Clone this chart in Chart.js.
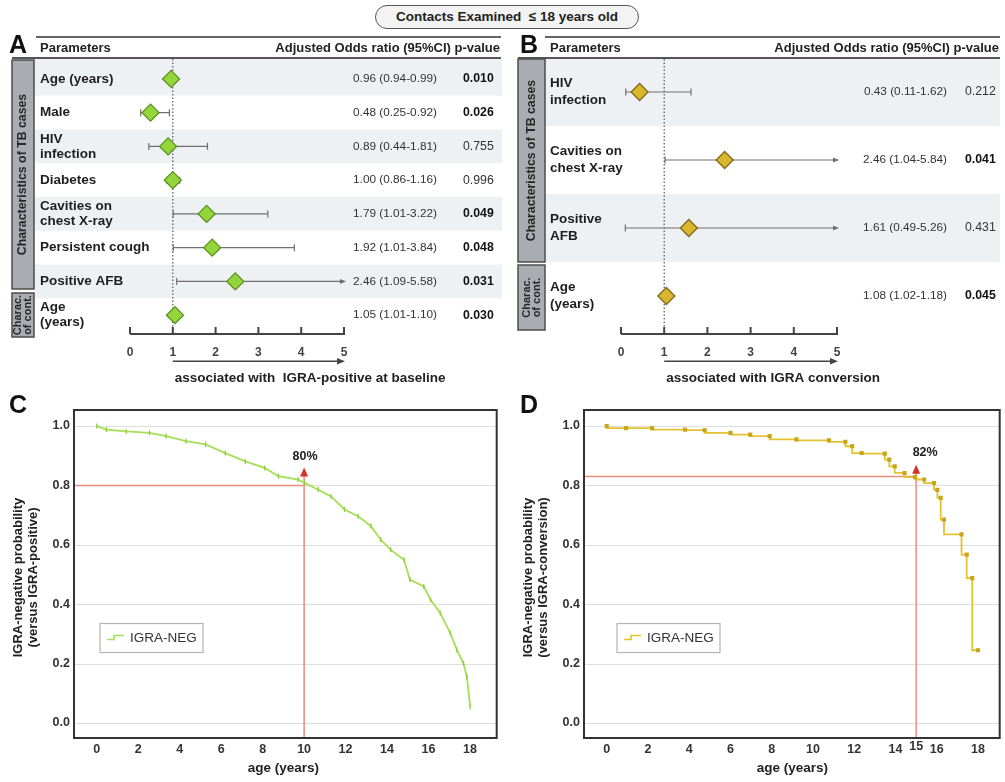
<!DOCTYPE html>
<html><head><meta charset="utf-8">
<script src="https://cdn.jsdelivr.net/npm/chart.js@4.4.1/dist/chart.umd.min.js"></script>
<style>
html,body{margin:0;padding:0;background:#fff;}
#wrap{position:relative;width:1005px;height:782px;overflow:hidden;}
canvas{position:absolute;}
.pill{position:absolute;left:375px;top:5px;width:262px;height:22px;border:1.5px solid #555;border-radius:12px;background:#f3f3f3;text-align:center;font:bold 13.5px "Liberation Sans Narrow","Liberation Sans",Arial,sans-serif;line-height:22px;color:#222;}
</style></head>
<body><div id="wrap">
<canvas id="cA" width="502" height="395" style="left:0;top:0"></canvas>
<canvas id="cB" width="503" height="395" style="left:502px;top:0"></canvas>
<canvas id="cC" width="502" height="387" style="left:0;top:395px"></canvas>
<canvas id="cD" width="503" height="387" style="left:502px;top:395px"></canvas>
<div class="pill">Contacts Examined&nbsp; ≤ 18 years old</div>
</div>
<script>
// ---------- DATA ----------
const title = 'Contacts Examined  ≤ 18 years old';

// Panel A
const paramsA = ['Age (years)', 'Male', 'HIV\ninfection', 'Diabetes', 'Cavities on\nchest X-ray', 'Persistent cough', 'Positive AFB', 'Age\n(years)'];
const orA = [0.96, 0.48, 0.89, 1.00, 1.79, 1.92, 2.46, 1.05];
const ciLowA = [0.94, 0.25, 0.44, 0.86, 1.01, 1.01, 1.09, 1.01];
const ciHighA = [0.99, 0.92, 1.81, 1.16, 3.22, 3.84, 5.58, 1.10];
const orTextA = ['0.96 (0.94-0.99)', '0.48 (0.25-0.92)', '0.89 (0.44-1.81)', '1.00 (0.86-1.16)', '1.79 (1.01-3.22)', '1.92 (1.01-3.84)', '2.46 (1.09-5.58)', '1.05 (1.01-1.10)'];
const pA = [0.010, 0.026, 0.755, 0.996, 0.049, 0.048, 0.031, 0.030];
const groupsA = [['Characteristics of TB cases'], ['Charac.', 'of cont.']];
const captionA = 'associated with  IGRA-positive at baseline';

// Panel B
const paramsB = ['HIV\ninfection', 'Cavities on\nchest X-ray', 'Positive\nAFB', 'Age\n(years)'];
const orB = [0.43, 2.40, 1.57, 1.05];
const ciLowB = [0.11, 1.02, 0.10, 1.02];
const ciHighB = [1.62, 5.84, 5.26, 1.10];
const orTextB = ['0.43 (0.11-1.62)', '2.46 (1.04-5.84)', '1.61 (0.49-5.26)', '1.08 (1.02-1.18)'];
const pB = [0.212, 0.041, 0.431, 0.045];
const groupsB = [['Characteristics of TB cases'], ['Charac.', 'of cont.']];
const captionB = 'associated with IGRA conversion';

const forestTicks = [0, 1, 2, 3, 4, 5];

// Panel C (Kaplan-Meier, IGRA-positive at baseline)
const ageC = [0, 0.46, 1.42, 2.54, 3.34, 4.3, 5.25, 6.2, 7.16, 8.1, 8.76, 9.71, 10.03, 10.67, 11.3, 11.95, 12.6, 13.22, 13.7, 14.18, 14.82, 15.1, 15.77, 16.1, 16.57, 17.05, 17.37, 17.69, 17.85, 18.01];
const probC = [1.0, 0.988, 0.982, 0.977, 0.966, 0.949, 0.938, 0.909, 0.881, 0.859, 0.831, 0.82, 0.808, 0.786, 0.763, 0.719, 0.696, 0.663, 0.617, 0.583, 0.55, 0.483, 0.46, 0.415, 0.37, 0.303, 0.246, 0.2, 0.156, 0.055];
// Panel D (Kaplan-Meier, IGRA conversion)
const ageD = [0, 0.94, 2.2, 3.8, 4.75, 6.0, 6.96, 7.9, 9.2, 10.77, 11.57, 11.9, 12.36, 13.48, 13.7, 13.96, 14.44, 14.95, 15.39, 15.87, 16.03, 16.19, 16.35, 17.2, 17.45, 17.72, 18.0];
const probD = [1.0, 0.993, 0.993, 0.988, 0.986, 0.977, 0.971, 0.966, 0.955, 0.952, 0.947, 0.932, 0.909, 0.907, 0.887, 0.864, 0.842, 0.828, 0.82, 0.808, 0.785, 0.758, 0.685, 0.635, 0.567, 0.488, 0.245];

const kmXTicks = [0, 2, 4, 6, 8, 10, 12, 14, 16, 18];
const kmYTicks = [0.0, 0.2, 0.4, 0.6, 0.8, 1.0];
const refAges = [10, 15];
const refProbs = [0.80, 0.83];
const refArrowTips = [0.86, 0.87];
const refLabels = ['80%', '82%'];
const refLabelProbs = [0.896, 0.912];
const seriesLabel = 'IGRA-NEG';
const kmXTitle = 'age (years)';
const kmYTitleC = ['IGRA-negative probability', '(versus IGRA-positive)'];
const kmYTitleD = ['IGRA-negative probability', '(versus IGRA-conversion)'];

// ---------- DRAWING ----------
const FONT = '"Liberation Sans", Arial, sans-serif';

function hline(ctx, x0, x1, y) { ctx.beginPath(); ctx.moveTo(x0, y); ctx.lineTo(x1, y); ctx.stroke(); }
function vline(ctx, x, y0, y1) { ctx.beginPath(); ctx.moveTo(x, y0); ctx.lineTo(x, y1); ctx.stroke(); }

function makeForest(cfg) {
  return {
    id: 'forest' + cfg.letter,
    beforeDatasetsDraw(chart) {
      const ctx = chart.ctx, x = chart.scales.x, y = chart.scales.y, L = cfg.L;
      const n = cfg.params.length;
      ctx.save();
      // row bands
      for (let i = 0; i < n; i += 2) {
        let t = y.getPixelForValue(i - 0.5), b = y.getPixelForValue(i + 0.5);
        if (i === 0) t = 59;
        ctx.fillStyle = '#eef1f4';
        ctx.fillRect(L.bandX0, t, L.bandX1 - L.bandX0, b - t);
      }
      // letter
      ctx.fillStyle = '#111'; ctx.font = 'bold 25px ' + FONT; ctx.textAlign = 'left'; ctx.textBaseline = 'alphabetic';
      ctx.fillText(cfg.letter, L.letterX, 53);
      // rules
      ctx.fillStyle = '#666'; ctx.fillRect(L.topX0, 36, L.right - L.topX0, 2);
      ctx.fillStyle = '#555'; ctx.fillRect(L.boxX0, 57, L.right - L.boxX0, 2);
      // header
      ctx.fillStyle = '#222'; ctx.font = 'bold 13px ' + FONT; ctx.textBaseline = 'middle';
      ctx.fillText('Parameters', L.labelX, 48);
      ctx.textAlign = 'right';
      ctx.fillText('Adjusted Odds ratio (95%CI) p-value', L.right - 1, 48);
      // group boxes
      cfg.groups.forEach((g, k) => {
        const [y0, y1] = L.boxes[k];
        ctx.fillStyle = '#a9adb2'; ctx.strokeStyle = '#4d4d4d'; ctx.lineWidth = 1.5;
        ctx.fillRect(L.boxX0, y0, L.boxW, y1 - y0);
        ctx.strokeRect(L.boxX0, y0, L.boxW, y1 - y0);
        ctx.save();
        ctx.translate(L.boxX0 + L.boxW / 2, (y0 + y1) / 2);
        ctx.rotate(-Math.PI / 2);
        ctx.fillStyle = '#262626'; ctx.font = 'bold ' + (g.length > 1 ? 11 : 12.3) + 'px ' + FONT; ctx.textAlign = 'center'; ctx.textBaseline = 'middle';
        g.forEach((t, j) => ctx.fillText(t, 0, (j - (g.length - 1) / 2) * 10));
        ctx.restore();
      });
      // parameter labels, OR text, p-values
      cfg.params.forEach((p, i) => {
        const yy = y.getPixelForValue(i);
        const lines = p.split('\n');
        ctx.fillStyle = '#1e1e1e'; ctx.font = 'bold 13.5px ' + FONT; ctx.textAlign = 'left'; ctx.textBaseline = 'middle';
        lines.forEach((t, j) => ctx.fillText(t, L.labelX, yy + (j - (lines.length - 1) / 2) * L.lh));
        ctx.fillStyle = '#333'; ctx.font = '11.8px ' + FONT; ctx.textAlign = 'right';
        ctx.fillText(cfg.orText[i], L.orRight, yy);
        ctx.textAlign = 'left';
        ctx.font = (cfg.p[i] < 0.05 ? 'bold ' : '') + '12.3px ' + FONT;
        ctx.fillStyle = cfg.p[i] < 0.05 ? '#111' : '#333';
        ctx.fillText(cfg.p[i].toFixed(3), L.pLeft, yy);
      });
      // reference dotted line at OR = 1
      const x1 = x.getPixelForValue(1);
      ctx.strokeStyle = '#555'; ctx.lineWidth = 1.2; ctx.setLineDash([1.5, 2]);
      vline(ctx, x1, 59, L.axisY);
      ctx.setLineDash([]);
      // whiskers
      ctx.strokeStyle = '#6f6f6f'; ctx.fillStyle = '#6f6f6f'; ctx.lineWidth = 1.2;
      cfg.params.forEach((p, i) => {
        const yy = y.getPixelForValue(i);
        const lo = x.getPixelForValue(Math.max(cfg.lo[i], 0));
        const clipped = cfg.hi[i] > 5;
        const hi = x.getPixelForValue(Math.min(cfg.hi[i], 5));
        hline(ctx, lo, hi, yy);
        vline(ctx, lo, yy - 3.5, yy + 3.5);
        if (clipped) {
          ctx.beginPath(); ctx.moveTo(hi + 2, yy); ctx.lineTo(hi - 4, yy - 2.5); ctx.lineTo(hi - 4, yy + 2.5); ctx.closePath(); ctx.fill();
        } else {
          vline(ctx, hi, yy - 3.5, yy + 3.5);
        }
      });
      // axis
      const a0 = x.getPixelForValue(0), a5 = x.getPixelForValue(5);
      ctx.fillStyle = '#444';
      ctx.fillRect(a0, L.axisY - 1, a5 - a0 + 1, 2);
      ctx.font = 'bold 12px ' + FONT; ctx.textAlign = 'center'; ctx.textBaseline = 'middle';
      forestTicks.forEach(t => {
        const px = x.getPixelForValue(t);
        ctx.fillStyle = '#444'; ctx.fillRect(px - 1, L.axisY - 7, 2, 7);
        ctx.fillText(String(t), px, L.axisY + 19);
      });
      ctx.fillRect(x1, L.axisY + 26.5, a5 - x1 - 5, 1.5);
      ctx.beginPath(); ctx.moveTo(a5 + 1, L.axisY + 27.2); ctx.lineTo(a5 - 7, L.axisY + 24); ctx.lineTo(a5 - 7, L.axisY + 30.5); ctx.closePath(); ctx.fill();
      ctx.fillStyle = '#222'; ctx.font = 'bold 13.5px ' + FONT; ctx.textAlign = 'left';
      ctx.fillText(cfg.caption, x1 + 2, L.axisY + 44);
      ctx.restore();
    }
  };
}

function forestChart(id, cfg) {
  const n = cfg.params.length;
  return new Chart(document.getElementById(id), {
    type: 'scatter',
    data: { datasets: [{
      data: cfg.or.map((v, i) => ({ x: v, y: i })),
      pointStyle: 'rectRot', pointRadius: 8.5, pointHoverRadius: 8.5,
      backgroundColor: cfg.fill, borderColor: cfg.stroke, borderWidth: 1.3, clip: false
    }]},
    options: {
      responsive: false, animation: false, devicePixelRatio: 1, events: [],
      layout: { padding: cfg.pad },
      plugins: { legend: { display: false }, tooltip: { enabled: false } },
      scales: {
        x: { type: 'linear', min: 0, max: 5, display: false },
        y: { type: 'linear', min: -0.5, max: n - 0.5, reverse: true, display: false }
      }
    },
    plugins: [makeForest(cfg)]
  });
}

forestChart('cA', {
  letter: 'A', params: paramsA, or: orA, lo: ciLowA, hi: ciHighA, orText: orTextA, p: pA,
  groups: groupsA, caption: captionA, fill: '#93d63c', stroke: '#5b8f1f',
  pad: { left: 130, right: 158, top: 62, bottom: 63 },
  L: { letterX: 9, topX0: 36, right: 501, boxX0: 12, boxW: 22, labelX: 40, orRight: 437, pLeft: 463,
       bandX0: 35, bandX1: 502, lh: 15, axisY: 334, boxes: [[60, 289], [293, 337]] }
});
forestChart('cB', {
  letter: 'B', params: paramsB, or: orB, lo: ciLowB, hi: ciHighB, orText: orTextB, p: pB,
  groups: groupsB, caption: captionB, fill: '#d8b72c', stroke: '#85691a',
  pad: { left: 119, right: 168, top: 58, bottom: 65 },
  L: { letterX: 18, topX0: 43, right: 498, boxX0: 16, boxW: 27, labelX: 48, orRight: 445, pLeft: 463,
       bandX0: 43, bandX1: 498, lh: 17, axisY: 334, boxes: [[59, 262], [265, 330]] }
});

function makeKM(cfg) {
  return {
    id: 'km' + cfg.letter,
    beforeDatasetsDraw(chart) {
      const ctx = chart.ctx, ca = chart.chartArea, x = chart.scales.x, y = chart.scales.y;
      ctx.save();
      ctx.strokeStyle = '#dedede'; ctx.lineWidth = 1.2;
      kmYTicks.forEach(v => hline(ctx, ca.left, ca.right, Math.round(y.getPixelForValue(v)) + 0.5));
      const rx = x.getPixelForValue(cfg.refAge), ry = y.getPixelForValue(cfg.refProb), tip = y.getPixelForValue(cfg.tip);
      ctx.strokeStyle = '#ee8a80'; ctx.lineWidth = 1.5;
      hline(ctx, ca.left, rx, ry);
      vline(ctx, rx, ca.bottom, tip + 6);
      ctx.restore();
    },
    afterDatasetsDraw(chart) {
      const ctx = chart.ctx, ca = chart.chartArea, x = chart.scales.x, y = chart.scales.y;
      ctx.save();
      const rx = x.getPixelForValue(cfg.refAge), tip = y.getPixelForValue(cfg.tip);
      ctx.fillStyle = '#d6322a';
      ctx.beginPath(); ctx.moveTo(rx, tip); ctx.lineTo(rx - 4, tip + 9); ctx.lineTo(rx + 4, tip + 9); ctx.closePath(); ctx.fill();
      ctx.fillStyle = '#222'; ctx.font = 'bold 12.5px ' + FONT; ctx.textAlign = 'center'; ctx.textBaseline = 'middle';
      ctx.fillText(cfg.refText, rx + cfg.labelDx, y.getPixelForValue(cfg.labelProb));
      // frame
      ctx.strokeStyle = '#333'; ctx.lineWidth = 2;
      ctx.strokeRect(ca.left, ca.top, ca.right - ca.left, ca.bottom - ca.top);
      // tick labels
      ctx.fillStyle = '#333'; ctx.font = 'bold 12.5px ' + FONT;
      ctx.textAlign = 'right';
      kmYTicks.forEach(v => ctx.fillText(v.toFixed(1), ca.left - 4, y.getPixelForValue(v)));
      ctx.textAlign = 'center';
      kmXTicks.forEach(v => ctx.fillText(String(v), x.getPixelForValue(v), ca.bottom + 12));
      (cfg.extraX || []).forEach(v => ctx.fillText(String(v), x.getPixelForValue(v), ca.bottom + 9));
      // axis titles
      ctx.font = 'bold 13.5px ' + FONT; ctx.fillStyle = '#222';
      ctx.fillText(kmXTitle, x.getPixelForValue(9), ca.bottom + 30);
      ctx.font = 'bold 13px ' + FONT;
      ctx.save();
      ctx.translate(ca.left - 48, y.getPixelForValue(0.5) + 3);
      ctx.rotate(-Math.PI / 2);
      cfg.yTitle.forEach((t, j) => ctx.fillText(t, 0, (j - 0.5) * 15));
      ctx.restore();
      // legend
      const lx = ca.left + cfg.legendDx, ly = y.getPixelForValue(0.335);
      ctx.fillStyle = '#fff'; ctx.strokeStyle = '#b5b5b5'; ctx.lineWidth = 1.2;
      ctx.fillRect(lx, ly, 103, 29); ctx.strokeRect(lx, ly, 103, 29);
      ctx.strokeStyle = cfg.color; ctx.lineWidth = 1.6;
      ctx.beginPath(); ctx.moveTo(lx + 7, ly + 16); ctx.lineTo(lx + 14, ly + 16); ctx.lineTo(lx + 14, ly + 12); ctx.lineTo(lx + 24, ly + 12); ctx.stroke();
      ctx.fillStyle = '#333'; ctx.font = '13.5px ' + FONT; ctx.textAlign = 'left';
      ctx.fillText(chart.data.datasets[0].label, lx + 30, ly + 15);
      // letter
      ctx.fillStyle = '#111'; ctx.font = 'bold 25px ' + FONT; ctx.textBaseline = 'alphabetic';
      ctx.fillText(cfg.letter, cfg.letterX, 18);
      ctx.restore();
    }
  };
}

function kmChart(id, cfg) {
  return new Chart(document.getElementById(id), {
    type: 'line',
    data: { datasets: [{
      label: seriesLabel,
      data: cfg.age.map((a, i) => ({ x: a, y: cfg.prob[i] })),
      stepped: cfg.stepped, borderColor: cfg.color, borderWidth: 1.8,
      pointStyle: cfg.pointStyle, pointRadius: cfg.pointRadius, pointRotation: cfg.pointRotation,
      pointBackgroundColor: cfg.pointColor, pointBorderColor: cfg.pointColor, pointBorderWidth: 1.3,
      fill: false, tension: 0
    }]},
    options: {
      responsive: false, animation: false, devicePixelRatio: 1, events: [],
      layout: { padding: cfg.pad },
      plugins: { legend: { display: false }, tooltip: { enabled: false } },
      scales: {
        x: { type: 'linear', min: cfg.xmin, max: cfg.xmax, display: false },
        y: { type: 'linear', min: -0.0505, max: 1.054, display: false }
      }
    },
    plugins: [makeKM(cfg)]
  });
}

kmChart('cC', {
  letter: 'C', letterX: 9, age: ageC, prob: probC, stepped: false,
  color: '#a4df57', pointColor: '#8fcf3f', pointStyle: 'line', pointRadius: 2.5, pointRotation: 90,
  refAge: refAges[0], refProb: refProbs[0], tip: refArrowTips[0], refText: refLabels[0], labelProb: refLabelProbs[0], labelDx: 1,
  pad: { left: 74, right: 2, top: 15, bottom: 44 }, xmin: -1.10, xmax: 19.29,
  yTitle: kmYTitleC, legendDx: 26
});
kmChart('cD', {
  letter: 'D', letterX: 18, age: ageD, prob: probD, stepped: 'after',
  color: '#e3c330', pointColor: '#c9a51c', pointStyle: 'rect', pointRadius: 2, pointRotation: 0,
  refAge: refAges[1], refProb: refProbs[1], tip: refArrowTips[1], refText: refLabels[1], labelProb: refLabelProbs[1], labelDx: 9,
  pad: { left: 82, right: 0, top: 15, bottom: 44 }, xmin: -1.10, xmax: 19.05,
  yTitle: kmYTitleD, legendDx: 33, extraX: [15]
});
</script>
</body></html>
